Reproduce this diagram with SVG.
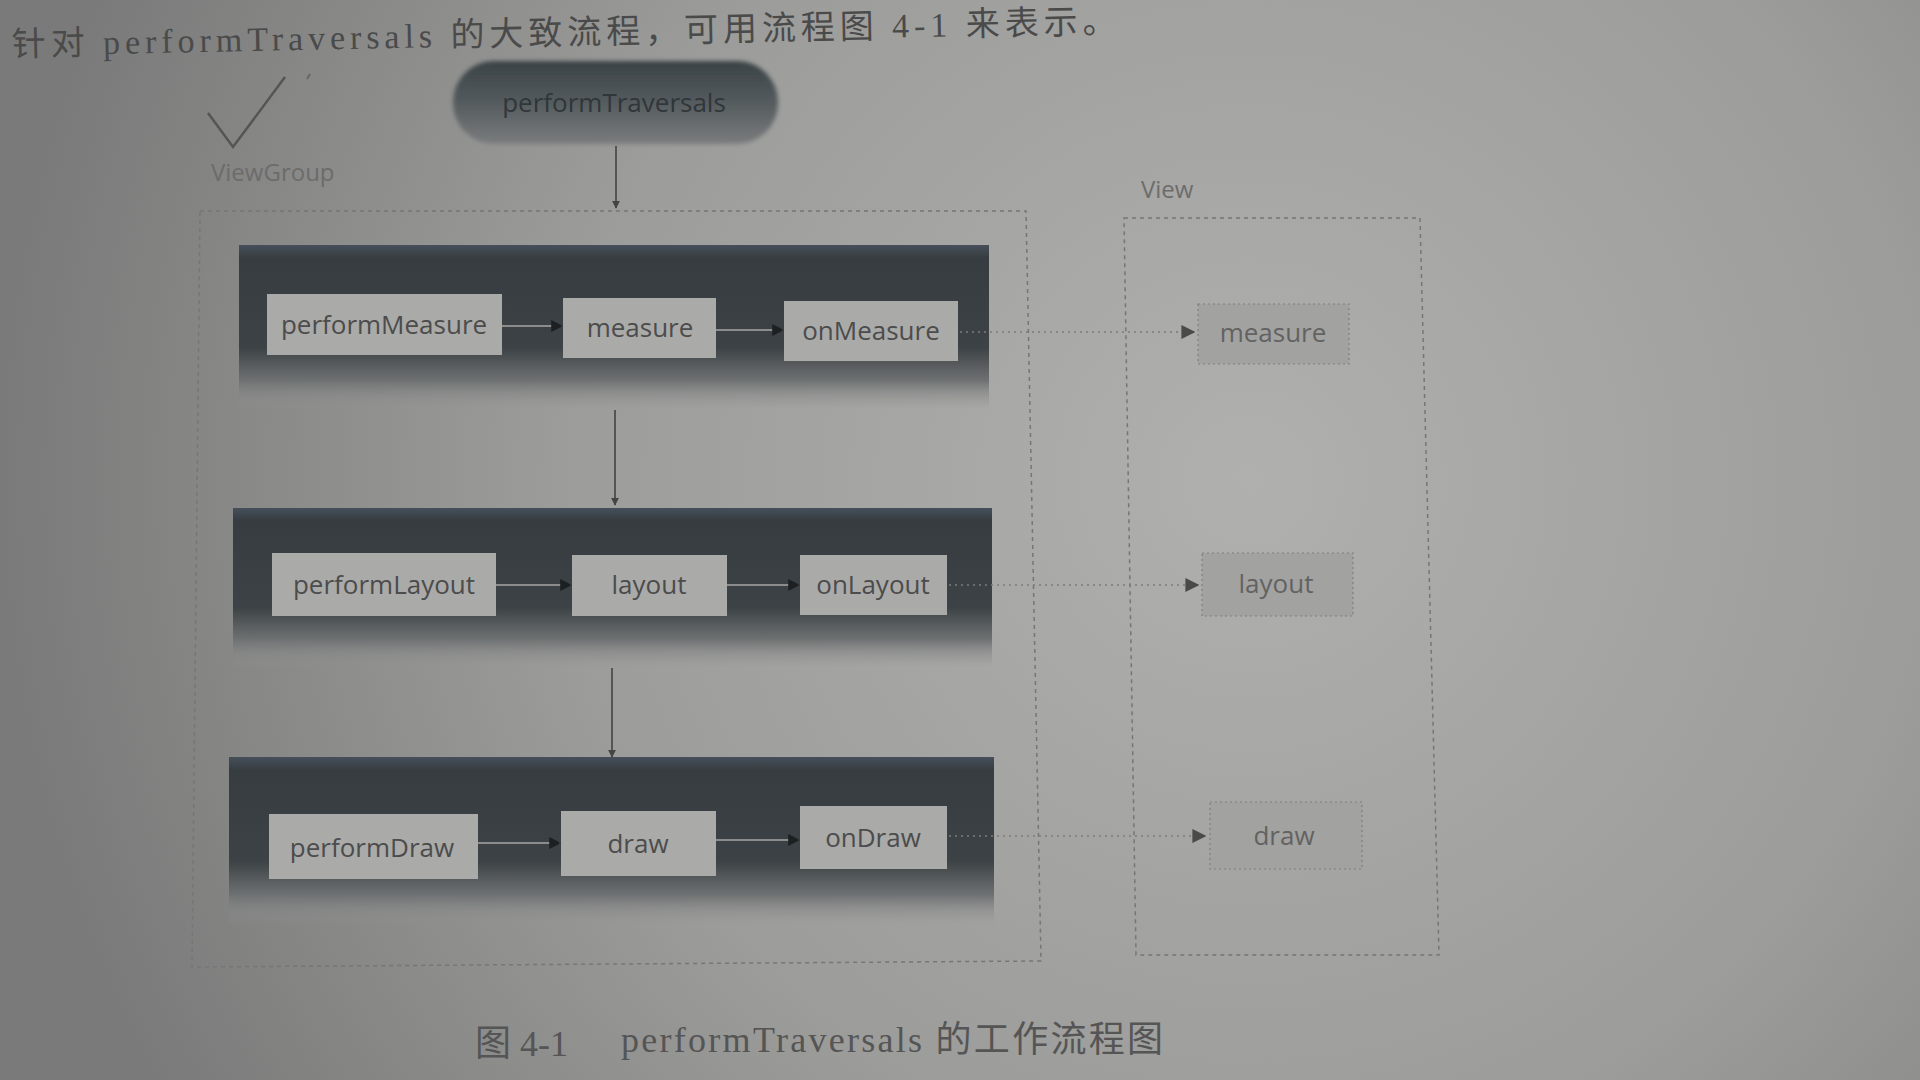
<svg xmlns="http://www.w3.org/2000/svg" width="1920" height="1080" viewBox="0 0 1920 1080">
<style>
.box{fill:#aaaaa9;}
.btxt{font-family:"Open Sans","Noto Sans",sans-serif;font-size:26px;fill:#4c4c4c;text-anchor:middle;}
.vbox{fill:#a2a2a1;stroke:#7e7e7e;stroke-width:1.2;stroke-dasharray:2 3;}
.vtxt{font-family:"Open Sans","Noto Sans",sans-serif;font-size:26px;fill:#626262;text-anchor:middle;}
.lbl{font-family:"Open Sans","Noto Sans",sans-serif;font-size:24px;fill:#6c6c6c;}
.cont{fill:none;stroke:#767676;stroke-width:1.5;stroke-dasharray:4 4;}
.arr{stroke:#555;stroke-width:2;fill:none;marker-end:url(#ah);}
.harr{stroke:#8c8c8c;stroke-width:2;fill:none;marker-end:url(#ahd);}
.dot{stroke:#7c7c7c;stroke-width:1.5;stroke-dasharray:2 4;fill:none;marker-end:url(#ahv);}
</style>
<defs>
<radialGradient id="bg" cx="1250" cy="480" r="1250" gradientUnits="userSpaceOnUse">
<stop offset="0" stop-color="#b0b0ae"/>
<stop offset="0.55" stop-color="#9c9c9a"/>
<stop offset="1" stop-color="#7a7a7a"/>
</radialGradient>
<linearGradient id="band" x1="0" y1="0" x2="0" y2="1">
<stop offset="0" stop-color="#46505a"/>
<stop offset="0.08" stop-color="#363c40"/>
<stop offset="0.62" stop-color="#3c4245"/>
<stop offset="0.82" stop-color="#6e7172"/>
<stop offset="1" stop-color="#969695" stop-opacity="0"/>
</linearGradient>
<linearGradient id="pill" x1="0" y1="0" x2="0" y2="1">
<stop offset="0" stop-color="#3a4246"/>
<stop offset="0.5" stop-color="#555b5e"/>
<stop offset="1" stop-color="#7a7d7e"/>
</linearGradient>
<filter id="soft" x="-5%" y="-10%" width="110%" height="120%"><feGaussianBlur stdDeviation="2"/></filter>
<marker id="ah" viewBox="0 0 10 10" refX="9" refY="5" markerWidth="8" markerHeight="8" orient="auto" markerUnits="userSpaceOnUse">
<path d="M0,0 L10,5 L0,10 z" fill="#444"/>
</marker>
<marker id="ahd" viewBox="0 0 10 10" refX="9" refY="5" markerWidth="12" markerHeight="12" orient="auto" markerUnits="userSpaceOnUse">
<path d="M0,0 L10,5 L0,10 z" fill="#1c2022"/>
</marker>
<marker id="ahv" viewBox="0 0 10 10" refX="9" refY="5" markerWidth="14" markerHeight="14" orient="auto" markerUnits="userSpaceOnUse">
<path d="M0,0 L10,5 L0,10 z" fill="#4a4a4a"/>
</marker>
</defs>
<rect x="0" y="0" width="1920" height="1080" fill="url(#bg)"/>

<text x="12" y="56" transform="rotate(-1.2 12 56)" font-family="Liberation Serif,Noto Sans CJK SC,serif" font-size="34" fill="#4a4a4a" textLength="1105" lengthAdjust="spacing">针对 performTraversals 的大致流程，可用流程图 4-1 来表示。</text>

<g id="viewgroup-container">
<path class="cont" d="M200,211 L1026,211 L1041,961 L192,967 Z"/>
<polyline points="208,113 233,147 285,77" fill="none" stroke="#555" stroke-width="2.5"/>
<line x1="307" y1="79" x2="310" y2="74" stroke="#666" stroke-width="2"/>
<text class="lbl" x="211" y="181">ViewGroup</text>
</g>

<g id="view-container">
<path class="cont" d="M1124,218 L1420,218 L1439,955 L1136,955 Z"/>
<text class="lbl" x="1141" y="198">View</text>
</g>

<g id="performTraversals">
<rect x="453" y="61" width="325" height="83" rx="41" fill="url(#pill)" filter="url(#soft)"/>
<text x="614" y="112" font-family="Open Sans,Noto Sans,sans-serif" font-size="26" fill="#30363a" text-anchor="middle">performTraversals</text>
</g>

<g id="band-measure"><rect x="239" y="245" width="750" height="165" fill="url(#band)"/></g>
<g id="band-layout"><rect x="233" y="508" width="759" height="160" fill="url(#band)"/></g>
<g id="band-draw"><rect x="229" y="757" width="765" height="168" fill="url(#band)"/></g>

<g id="connectors">
<line class="arr" x1="616" y1="146" x2="616" y2="208"/>
<line class="arr" x1="615" y1="410" x2="615" y2="505"/>
<line class="arr" x1="612" y1="668" x2="612" y2="757"/>
<line class="harr" x1="502" y1="326" x2="562" y2="326"/>
<line class="harr" x1="716" y1="330" x2="783" y2="330"/>
<line class="harr" x1="496" y1="585" x2="571" y2="585"/>
<line class="harr" x1="727" y1="585" x2="799" y2="585"/>
<line class="harr" x1="478" y1="843" x2="560" y2="843"/>
<line class="harr" x1="716" y1="840" x2="799" y2="840"/>
<line class="dot" x1="960" y1="332" x2="1194" y2="332"/>
<line class="dot" x1="949" y1="585" x2="1198" y2="585"/>
<line class="dot" x1="949" y1="836" x2="1205" y2="836"/>
</g>

<g id="performMeasure"><rect class="box" x="267" y="294" width="235" height="61"/><text class="btxt" x="384" y="334">performMeasure</text></g>
<g id="measure"><rect class="box" x="563" y="298" width="153" height="60"/><text class="btxt" x="640" y="337">measure</text></g>
<g id="onMeasure"><rect class="box" x="784" y="301" width="174" height="60"/><text class="btxt" x="871" y="340">onMeasure</text></g>

<g id="performLayout"><rect class="box" x="272" y="553" width="224" height="63"/><text class="btxt" x="384" y="594">performLayout</text></g>
<g id="layout"><rect class="box" x="572" y="555" width="155" height="61"/><text class="btxt" x="649" y="594">layout</text></g>
<g id="onLayout"><rect class="box" x="800" y="555" width="147" height="60"/><text class="btxt" x="873" y="594">onLayout</text></g>

<g id="performDraw"><rect class="box" x="269" y="814" width="209" height="65"/><text class="btxt" x="372" y="857">performDraw</text></g>
<g id="draw"><rect class="box" x="561" y="811" width="155" height="65"/><text class="btxt" x="638" y="853">draw</text></g>
<g id="onDraw"><rect class="box" x="800" y="806" width="147" height="63"/><text class="btxt" x="873" y="847">onDraw</text></g>

<g id="view-measure"><rect class="vbox" x="1198" y="304" width="151" height="60"/><text class="vtxt" x="1273" y="342">measure</text></g>
<g id="view-layout"><rect class="vbox" x="1202" y="553" width="151" height="63"/><text class="vtxt" x="1276" y="593">layout</text></g>
<g id="view-draw"><rect class="vbox" x="1210" y="802" width="152" height="67"/><text class="vtxt" x="1284" y="845">draw</text></g>

<text x="475" y="1056" font-family="Liberation Serif,Noto Sans CJK SC,serif" font-size="36" fill="#555">图 4-1</text>
<text x="621" y="1052" font-family="Liberation Serif,Noto Sans CJK SC,serif" font-size="36" fill="#555" textLength="542" lengthAdjust="spacing">performTraversals 的工作流程图</text>
</svg>
